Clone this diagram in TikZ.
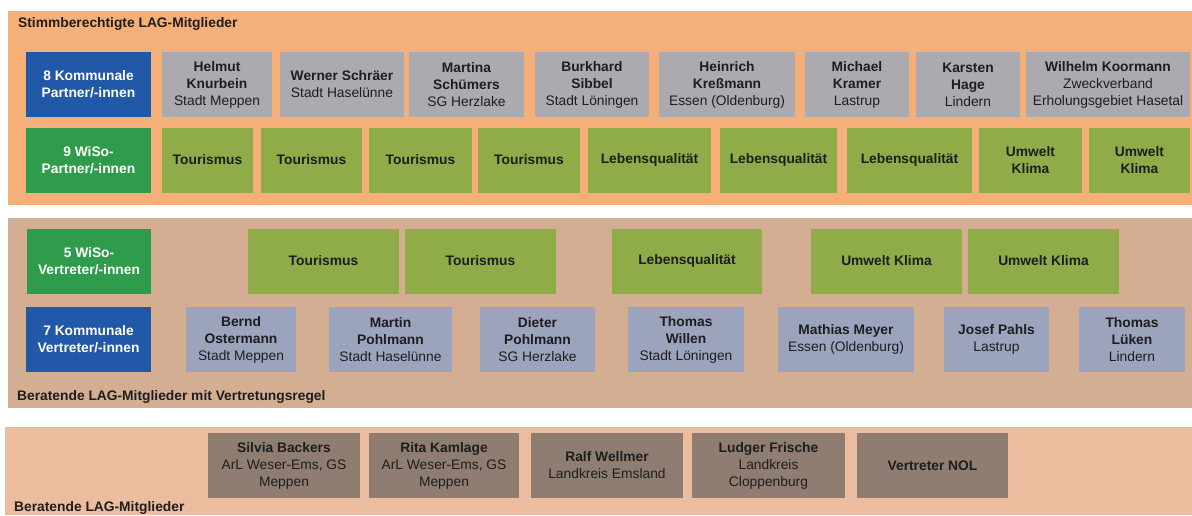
\documentclass[tikz,border=0pt]{standalone}
\usepackage{fontspec}
\setmainfont{Liberation Sans}
\usetikzlibrary{positioning}
\definecolor{lagorange}{HTML}{F5AF78}
\definecolor{lagtan}{HTML}{D3AE92}
\definecolor{lagpeach}{HTML}{EBBC9D}
\definecolor{lagblue}{HTML}{2158A8}
\definecolor{laggreen}{HTML}{2E9C4A}
\definecolor{lagolive}{HTML}{8FAC48}
\definecolor{laggrey}{HTML}{ABAAB1}
\definecolor{lagslate}{HTML}{9CA3BD}
\definecolor{lagbrown}{HTML}{8E7D70}
\definecolor{lagtext}{HTML}{1E1E1E}
\tikzset{
  box/.style={rectangle, minimum height=65pt, inner sep=1pt, outer sep=0pt, align=center, text=lagtext, font=\fontsize{13.8}{17}\selectfont},
  kommunal/.style={box, fill=lagblue, text=white, font=\fontsize{13.8}{17}\selectfont\bfseries},
  wiso/.style={box, fill=laggreen, text=white, font=\fontsize{13.8}{17}\selectfont\bfseries},
  thema/.style={box, fill=lagolive, font=\fontsize{13.8}{17}\selectfont\bfseries},
  person/.style={box, fill=laggrey},
  vertreter/.style={box, fill=lagslate},
  berater/.style={box, fill=lagbrown},
  panel/.style={anchor=west, inner sep=0pt, text=lagtext, font=\fontsize{13.8}{17}\selectfont\bfseries}
}

\begin{document}
\begin{tikzpicture}[x=1pt, y=-1pt]
    \useasboundingbox (0,0) rectangle (1192,515);
    % backgrounds of the three groups
    \fill[lagorange] (8,11) rectangle (1192,205);
    \fill[lagtan] (8,218) rectangle (1192,408);
    \fill[lagpeach] (5,427) rectangle (1192,515);

    \node[panel] (Stimm) at (18,24) {Stimmberechtigte LAG-Mitglieder};
    \node[panel] (BeratV) at (17,397) {Beratende LAG-Mitglieder mit Vertretungsregel};
    \node[panel] (Berat) at (14,508) {Beratende LAG-Mitglieder};

    % stimmberechtigt: kommunale partner
    \node[kommunal, minimum width=125pt] (KomP) at (88.5,84.5) {8 Kommunale\\Partner/-innen};
    \node[person, minimum width=110pt] (Knurbein) [right=11pt of KomP] {\textbf{Helmut}\\\textbf{Knurbein}\\Stadt Meppen};
    \node[person, minimum width=124pt] (Schraeer) [right=8pt of Knurbein] {\textbf{Werner Schräer}\\Stadt Haselünne};
    \node[person, minimum width=115pt] (Schuemers) [right=5pt of Schraeer] {\textbf{Martina}\\\textbf{Schümers}\\SG Herzlake};
    \node[person, minimum width=114pt] (Sibbel) [right=11pt of Schuemers] {\textbf{Burkhard}\\\textbf{Sibbel}\\Stadt Löningen};
    \node[person, minimum width=136pt] (Kressmann) [right=10pt of Sibbel] {\textbf{Heinrich}\\\textbf{Kreßmann}\\Essen (Oldenburg)};
    \node[person, minimum width=104pt] (Kramer) [right=10pt of Kressmann] {\textbf{Michael}\\\textbf{Kramer}\\Lastrup};
    \node[person, minimum width=104pt] (Hage) [right=7pt of Kramer] {\textbf{Karsten}\\\textbf{Hage}\\Lindern};
    \node[person, minimum width=164pt] (Koormann) [right=6pt of Hage] {\textbf{Wilhelm Koormann}\\Zweckverband\\Erholungsgebiet Hasetal};

    % stimmberechtigt: wiso partner
    \node[wiso, minimum width=125pt] (WiSoP) at (88.5,160) {9 WiSo-\\Partner/-innen};
    \node[thema, minimum width=91pt] (TourP1) [right=11pt of WiSoP] {Tourismus};
    \node[thema, minimum width=101pt] (TourP2) [right=8pt of TourP1] {Tourismus};
    \node[thema, minimum width=103pt] (TourP3) [right=7pt of TourP2] {Tourismus};
    \node[thema, minimum width=102pt] (TourP4) [right=6pt of TourP3] {Tourismus};
    \node[thema, minimum width=123pt] (LebP1) [right=8pt of TourP4] {Lebensqualität};
    \node[thema, minimum width=117pt] (LebP2) [right=9pt of LebP1] {Lebensqualität};
    \node[thema, minimum width=125pt] (LebP3) [right=10pt of LebP2] {Lebensqualität};
    \node[thema, minimum width=103pt] (UmwP1) [right=7pt of LebP3] {Umwelt\\Klima};
    \node[thema, minimum width=101pt] (UmwP2) [right=7pt of UmwP1] {Umwelt\\Klima};

    % beratend mit vertretungsregel: wiso
    \node[wiso, minimum width=124pt] (WiSoV) at (89,261) {5 WiSo-\\Vertreter/-innen};
    \node[thema, minimum width=151pt] (TourV1) [right=97pt of WiSoV] {Tourismus};
    \node[thema, minimum width=151pt] (TourV2) [right=6pt of TourV1] {Tourismus};
    \node[thema, minimum width=150pt] (LebV) [right=56pt of TourV2] {Lebensqualität};
    \node[thema, minimum width=151pt] (UmwV1) [right=49pt of LebV] {Umwelt Klima};
    \node[thema, minimum width=151pt] (UmwV2) [right=6pt of UmwV1] {Umwelt Klima};

    % beratend mit vertretungsregel: kommunal
    \node[kommunal, minimum width=125pt] (KomV) at (88.5,339.5) {7 Kommunale\\Vertreter/-innen};
    \node[vertreter, minimum width=110pt] (Ostermann) [right=35pt of KomV] {\textbf{Bernd}\\\textbf{Ostermann}\\Stadt Meppen};
    \node[vertreter, minimum width=123pt] (MPohlmann) [right=33pt of Ostermann] {\textbf{Martin}\\\textbf{Pohlmann}\\Stadt Haselünne};
    \node[vertreter, minimum width=115pt] (DPohlmann) [right=28pt of MPohlmann] {\textbf{Dieter}\\\textbf{Pohlmann}\\SG Herzlake};
    \node[vertreter, minimum width=116pt] (Willen) [right=33pt of DPohlmann] {\textbf{Thomas}\\\textbf{Willen}\\Stadt Löningen};
    \node[vertreter, minimum width=136pt] (Meyer) [right=34pt of Willen] {\textbf{Mathias Meyer}\\Essen (Oldenburg)};
    \node[vertreter, minimum width=105pt] (Pahls) [right=30pt of Meyer] {\textbf{Josef Pahls}\\Lastrup};
    \node[vertreter, minimum width=106pt] (Lueken) [right=30pt of Pahls] {\textbf{Thomas}\\\textbf{Lüken}\\Lindern};

    % beratend
    \node[berater, minimum width=152pt] (Backers) at (284,465.5) {\textbf{Silvia Backers}\\ArL Weser-Ems, GS\\Meppen};
    \node[berater, minimum width=150pt] (Kamlage) [right=9pt of Backers] {\textbf{Rita Kamlage}\\ArL Weser-Ems, GS\\Meppen};
    \node[berater, minimum width=152pt] (Wellmer) [right=12pt of Kamlage] {\textbf{Ralf Wellmer}\\Landkreis Emsland};
    \node[berater, minimum width=153pt] (Frische) [right=9pt of Wellmer] {\textbf{Ludger Frische}\\Landkreis\\Cloppenburg};
    \node[berater, minimum width=151pt] (NOL) [right=12pt of Frische] {\textbf{Vertreter NOL}};
\end{tikzpicture}
\end{document}
